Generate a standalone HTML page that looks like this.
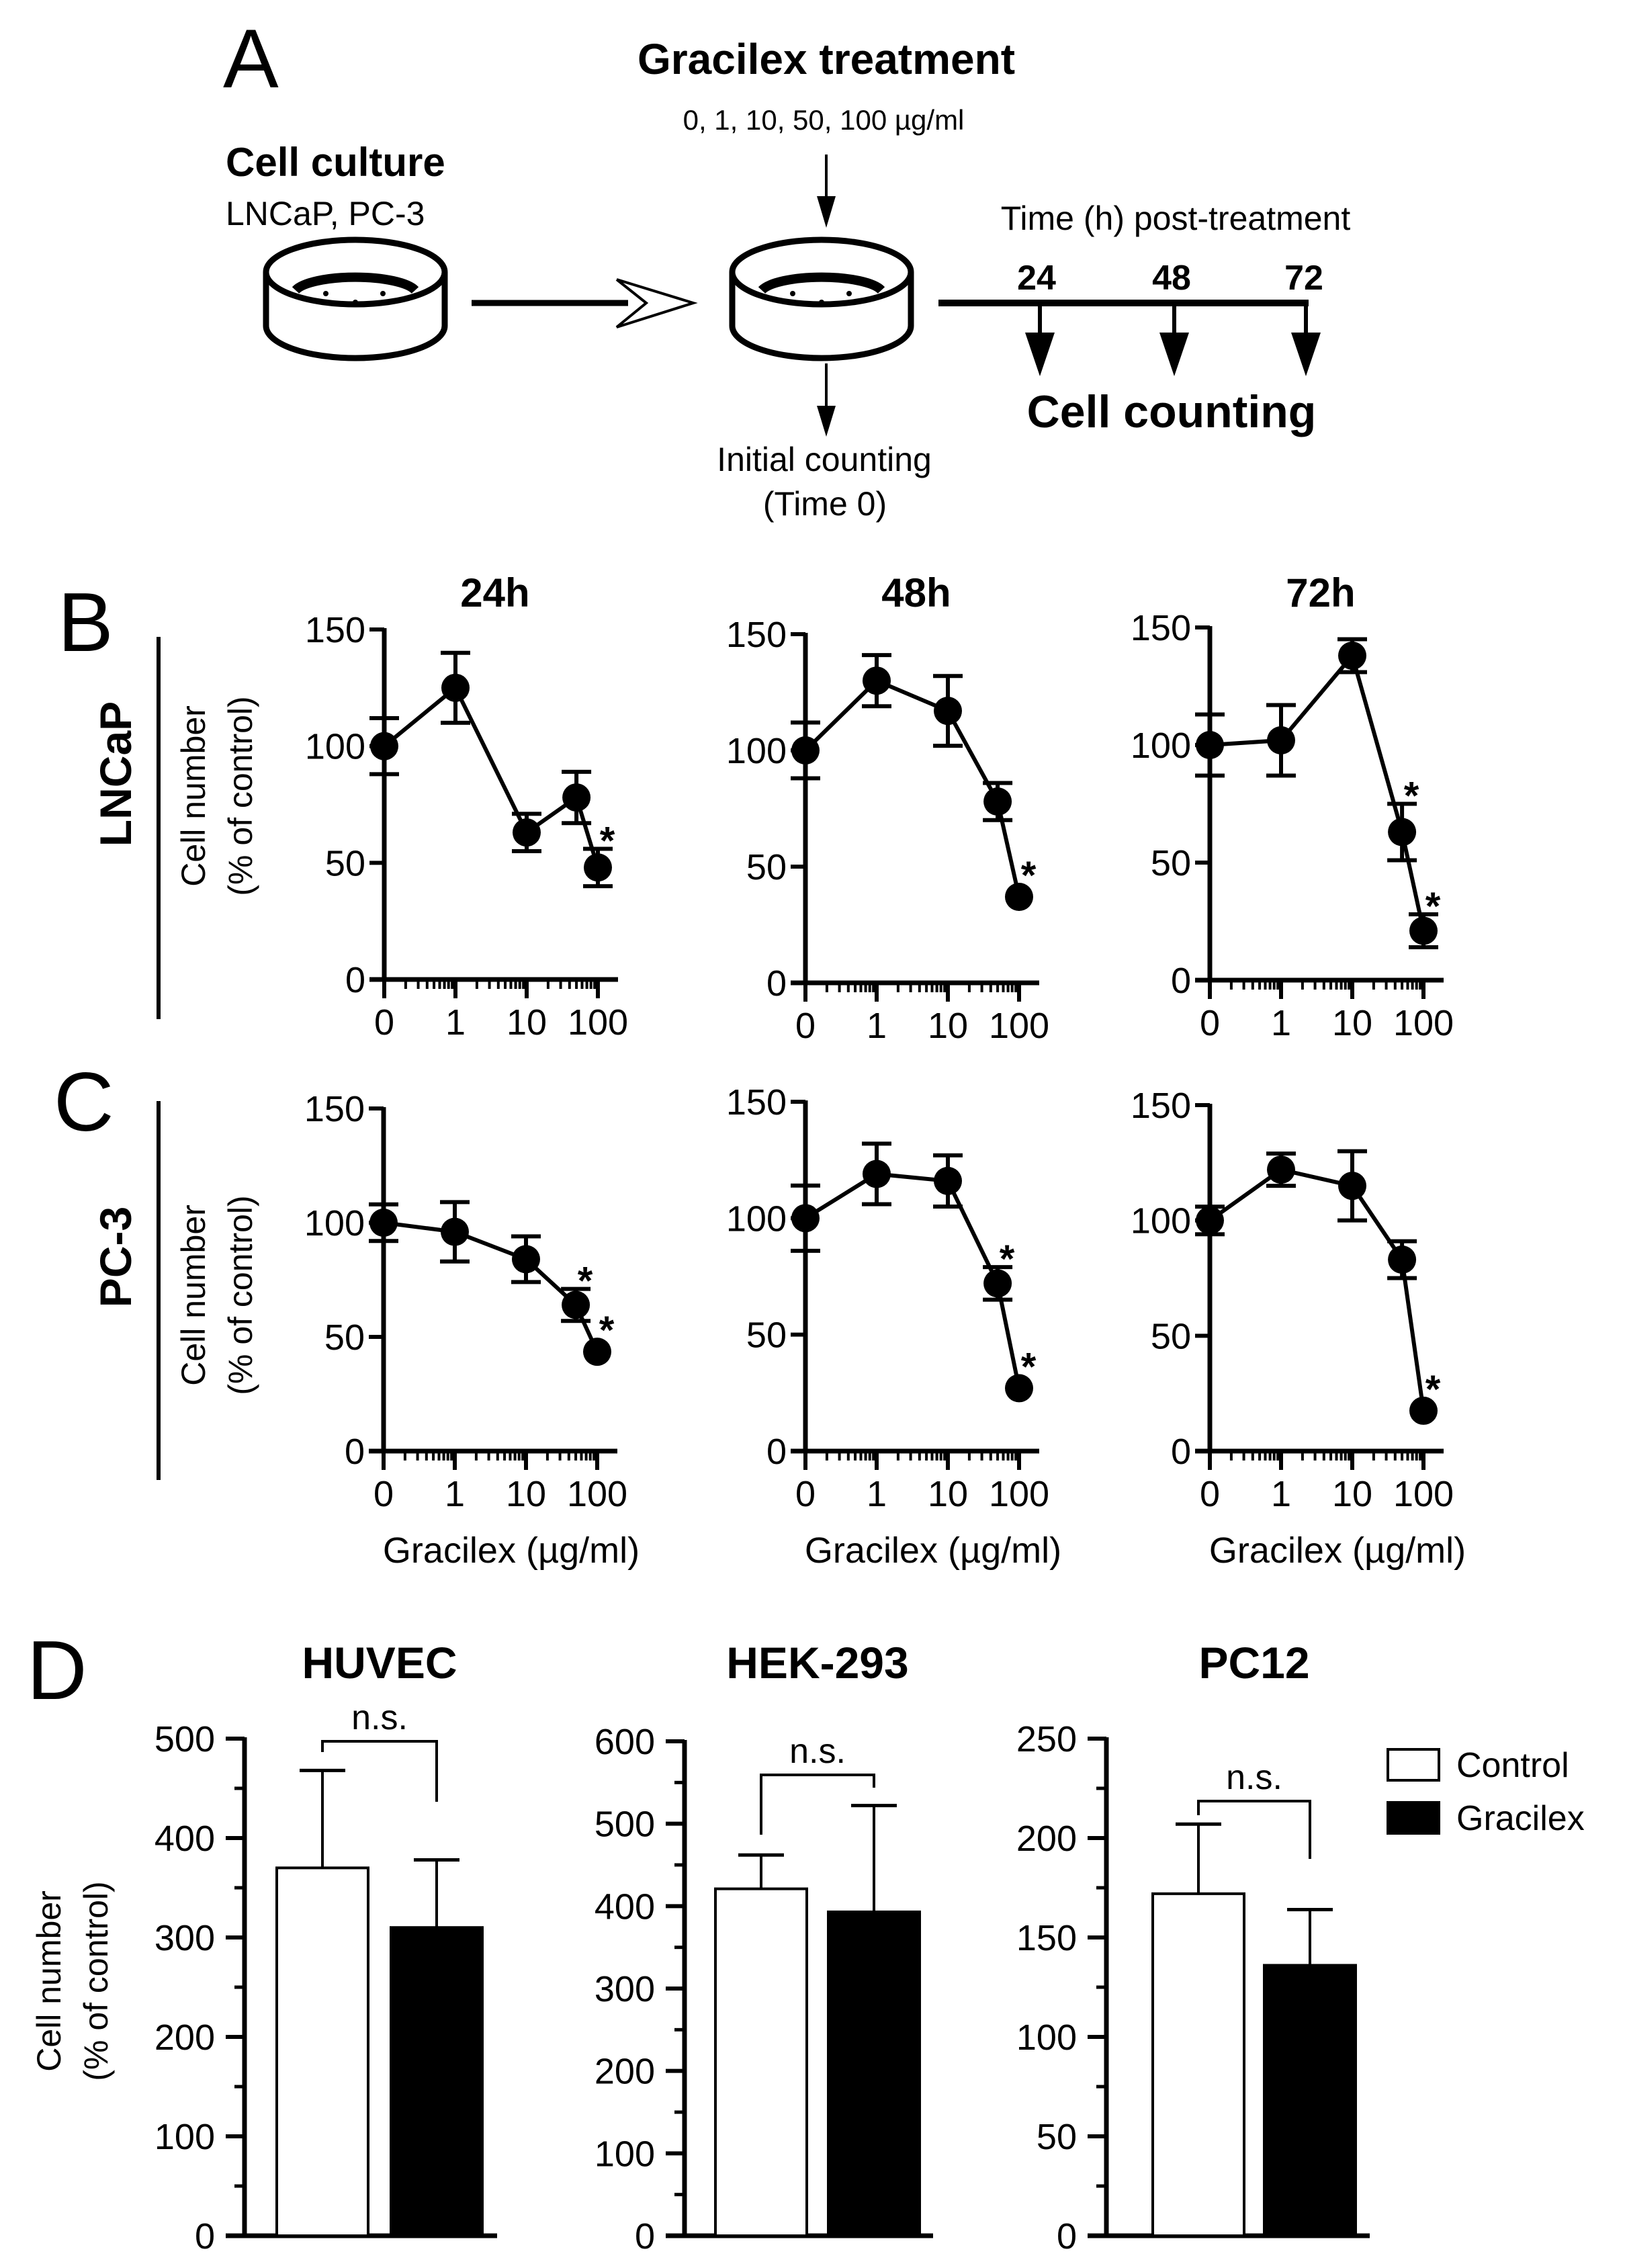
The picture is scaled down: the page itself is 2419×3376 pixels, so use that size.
<!DOCTYPE html>
<html><head><meta charset="utf-8"><style>
html,body{margin:0;padding:0;background:#fff;}
svg, svg text{font-family:"Liberation Sans",Arial,Helvetica,sans-serif;}
</style></head><body>
<svg id="fig" width="2419" height="3371" viewBox="0 0 2419 3371" xmlns="http://www.w3.org/2000/svg" font-family="Liberation Sans, Arial, sans-serif">
<rect width="2419" height="3371" fill="#fff"/>
<!-- Panel A -->
<g fill="#000" stroke="#000">
  <text x="332" y="130" font-size="124" stroke="none">A</text>
  <text x="1230" y="110" font-size="64" font-weight="bold" text-anchor="middle" stroke="none">Gracilex treatment</text>
  <text x="1226" y="193" font-size="42" text-anchor="middle" stroke="none">0, 1, 10, 50, 100 µg/ml</text>
  <text x="336" y="262" font-size="60" font-weight="bold" stroke="none">Cell culture</text>
  <text x="336" y="335" font-size="50" stroke="none">LNCaP, PC-3</text>
  <line x1="1230" y1="230" x2="1230" y2="300" stroke-width="4"/>
  <polygon points="1216,292 1244,292 1230,339" stroke="none"/>
  <g fill="none" stroke-width="9">
    <path d="M396,405 L396,485 A133,48 0 0 0 662,485 L662,405"/>
    <ellipse cx="529" cy="405" rx="133" ry="48"/>
    <path d="M440,432 A92,26 0 0 1 618,432" stroke-width="14"/>
    <circle cx="485" cy="437" r="4" fill="#000" stroke="none"/>
    <circle cx="529" cy="450" r="4" fill="#000" stroke="none"/>
    <circle cx="570" cy="437" r="4" fill="#000" stroke="none"/>
  </g>
  <line x1="702" y1="451" x2="935" y2="451" stroke-width="9"/>
  <polyline points="918,416 1032,451 918,487 962,451 918,416" fill="#fff" stroke-width="4"/>
  <g fill="none" stroke-width="9">
    <path d="M1090,405 L1090,485 A133,48 0 0 0 1356,485 L1356,405"/>
    <ellipse cx="1223" cy="405" rx="133" ry="48"/>
    <path d="M1134,432 A92,26 0 0 1 1312,432" stroke-width="14"/>
    <circle cx="1180" cy="437" r="4" fill="#000" stroke="none"/>
    <circle cx="1223" cy="450" r="4" fill="#000" stroke="none"/>
    <circle cx="1264" cy="437" r="4" fill="#000" stroke="none"/>
  </g>
  <line x1="1230" y1="541" x2="1230" y2="610" stroke-width="4"/>
  <polygon points="1216,604 1244,604 1230,650" stroke="none"/>
  <text x="1227" y="701" font-size="50" text-anchor="middle" stroke="none">Initial counting</text>
  <text x="1228" y="767" font-size="50" text-anchor="middle" stroke="none">(Time 0)</text>
  <text x="1750" y="342" font-size="50" text-anchor="middle" stroke="none">Time (h) post-treatment</text>
  <line x1="1397" y1="451" x2="1948" y2="451" stroke-width="10"/>
  <g>
    <line x1="1548" y1="451" x2="1548" y2="500" stroke-width="6"/><polygon points="1526,495 1570,495 1548,560" stroke="none"/>
    <line x1="1748" y1="451" x2="1748" y2="500" stroke-width="6"/><polygon points="1726,495 1770,495 1748,560" stroke="none"/>
    <line x1="1944" y1="451" x2="1944" y2="500" stroke-width="6"/><polygon points="1922,495 1966,495 1944,560" stroke="none"/>
  </g>
  <text x="1543" y="431" font-size="52" font-weight="bold" text-anchor="middle" stroke="none">24</text>
  <text x="1744" y="431" font-size="52" font-weight="bold" text-anchor="middle" stroke="none">48</text>
  <text x="1941" y="431" font-size="52" font-weight="bold" text-anchor="middle" stroke="none">72</text>
  <text x="1744" y="636" font-size="68" font-weight="bold" text-anchor="middle" stroke="none">Cell counting</text>
</g>
<!-- row labels -->
<g>
  <text x="86" y="969" font-size="124">B</text>
  <line x1="236" y1="948" x2="236" y2="1517" stroke="#000" stroke-width="6"/>
  <text transform="translate(195,1152) rotate(-90)" font-size="66" font-weight="bold" text-anchor="middle">LNCaP</text>
  <text transform="translate(305,1185) rotate(-90)" font-size="50" text-anchor="middle">Cell number</text>
  <text transform="translate(375,1185) rotate(-90)" font-size="50" text-anchor="middle">(% of control)</text>
  <text x="80" y="1683" font-size="124">C</text>
  <line x1="236" y1="1639" x2="236" y2="2203" stroke="#000" stroke-width="6"/>
  <text transform="translate(195,1871) rotate(-90)" font-size="66" font-weight="bold" text-anchor="middle">PC-3</text>
  <text transform="translate(305,1928) rotate(-90)" font-size="50" text-anchor="middle">Cell number</text>
  <text transform="translate(375,1928) rotate(-90)" font-size="50" text-anchor="middle">(% of control)</text>
  <text x="40" y="2529" font-size="124">D</text>
  <text transform="translate(90,2949) rotate(-90)" font-size="50" text-anchor="middle">Cell number</text>
  <text transform="translate(160,2949) rotate(-90)" font-size="50" text-anchor="middle">(% of control)</text>
</g>
<g id="charts"></g>
</svg>
<script>
// ---- line chart data ----
const concentrations = [0, 1, 10, 50, 100];
const xTickLabels = ["0", "1", "10", "100"];
const xTickValues = [0, 1, 10, 100];
const yTickValues = [0, 50, 100, 150];
const lncap24 = [100, 125, 63, 78, 48];
const lncap24Err = [12, 15, 8, 11, 8];
const lncap48 = [100, 130, 117, 78, 37];
const lncap48Err = [12, 11, 15, 8, 0];
const lncap72 = [100, 102, 138, 63, 21];
const lncap72Err = [13, 15, 7, 12, 7];
const pc3_24 = [100, 96, 84, 64, 43.5];
const pc3_24Err = [8, 13, 10, 7, 0];
const pc3_48 = [100, 119, 116, 72, 27];
const pc3_48Err = [14, 13, 11, 7, 0];
const pc3_72 = [100, 122, 115, 83, 17.5];
const pc3_72Err = [6, 7, 15, 8, 0];
const lncap24Stars = [4];
const lncap48Stars = [4];
const lncap72Stars = [3, 4];
const pc3_24Stars = [3, 4];
const pc3_48Stars = [3, 4];
const pc3_72Stars = [4];
const timeTitles = ["24h", "48h", "72h"];
// ---- bar chart data ----
const barGroups = ["Control", "Gracilex"];
const huvecValues = [370, 310];
const huvecErr = [98, 68];
const hekValues = [421, 393];
const hekErr = [41, 129];
const pc12Values = [172, 136];
const pc12Err = [35, 28];
const huvecTicks = [0, 100, 200, 300, 400, 500];
const hekTicks = [0, 100, 200, 300, 400, 500, 600];
const pc12Ticks = [0, 50, 100, 150, 200, 250];

const NS = "http://www.w3.org/2000/svg";
const root = document.getElementById('charts');
function mk(tag, attrs, parent) {
  const e = document.createElementNS(NS, tag);
  for (const k in attrs) e.setAttribute(k, attrs[k]);
  (parent || root).appendChild(e);
  return e;
}
function txt(s, attrs, parent) { const t = mk('text', attrs, parent); t.textContent = s; return t; }

function lineChart(name, ax, y0, y150, vals, errs, stars, title, xlabel) {
  const g = mk('g', {});
  
  
  const dec = 106;
  const xs = c => c === 0 ? ax : ax + dec + Math.log10(c) * dec;
  const ys = v => y0 - (v / 150) * (y0 - y150);
  mk('line', {x1: ax, y1: ys(150) - 2, x2: ax, y2: y0 + 2, stroke: '#000', 'stroke-width': 7}, g);
  yTickValues.forEach(v => {
    mk('line', {x1: ax - 22, y1: ys(v), x2: ax, y2: ys(v), stroke: '#000', 'stroke-width': 6}, g);
    const t = txt(String(v), {x: ax - 28, y: ys(v) + 19, 'font-size': 54, 'text-anchor': 'end'}, g);
    
    
  });
  mk('line', {x1: ax - 22, y1: y0, x2: xs(100) + 30, y2: y0, stroke: '#000', 'stroke-width': 7}, g);
  xTickValues.forEach((v, i) => {
    mk('line', {x1: xs(v), y1: y0, x2: xs(v), y2: y0 + 28, stroke: '#000', 'stroke-width': 6}, g);
    const t = txt(xTickLabels[i], {x: xs(v), y: y0 + 82, 'font-size': 54, 'text-anchor': 'middle'}, g);
    
    
  });
  [0.1, 1, 10].forEach(base => {
    for (let m = 2; m <= 9; m++) {
      const x = ax + dec + Math.log10(base * m) * dec;
      mk('line', {x1: x, y1: y0, x2: x, y2: y0 + 14, stroke: '#000', 'stroke-width': 4}, g);
    }
  });
  const pts = vals.map((v, i) => xs(concentrations[i]) + ',' + ys(v)).join(' ');
  const pl = mk('polyline', {points: pts, fill: 'none', stroke: '#000', 'stroke-width': 6}, g);
  
  
  vals.forEach((v, i) => {
    const x = xs(concentrations[i]);
    const e = errs[i];
    if (e > 0) {
      mk('line', {x1: x, y1: ys(v + e), x2: x, y2: ys(v - e), stroke: '#000', 'stroke-width': 6}, g);
      mk('line', {x1: x - 22, y1: ys(v + e), x2: x + 22, y2: ys(v + e), stroke: '#000', 'stroke-width': 6}, g);
      mk('line', {x1: x - 22, y1: ys(v - e), x2: x + 22, y2: ys(v - e), stroke: '#000', 'stroke-width': 6}, g);
    }
    const c = mk('circle', {cx: x, cy: ys(v), r: 21, fill: '#000'}, g);
    
    
  });
  stars.forEach(i => {
    const x = xs(concentrations[i]);
    const top = Math.min(ys(vals[i] + errs[i]), ys(vals[i]) - 20);
    const s = txt('*', {x: x + 14, y: top - 24 + 32, 'font-size': 58, 'font-weight': 'bold', 'text-anchor': 'middle'}, g);
    
    
  });
  if (title) {
    const t = txt(title, {x: ax + 165, y: 903, 'font-size': 60, 'font-weight': 'bold', 'text-anchor': 'middle'}, g);
    
    
  }
  if (xlabel) {
    const t = txt('Gracilex (µg/ml)', {x: ax + 190, y: 2326, 'font-size': 54, 'text-anchor': 'middle'}, g);
    
    
  }
}
lineChart('lncap-24h-chart', 572, 1458, 937, lncap24, lncap24Err, lncap24Stars, timeTitles[0], false);
lineChart('lncap-48h-chart', 1199, 1463, 944, lncap48, lncap48Err, lncap48Stars, timeTitles[1], false);
lineChart('lncap-72h-chart', 1801, 1459, 934, lncap72, lncap72Err, lncap72Stars, timeTitles[2], false);
lineChart('pc3-24h-chart', 571, 2160, 1650, pc3_24, pc3_24Err, pc3_24Stars, null, true);
lineChart('pc3-48h-chart', 1199, 2160, 1640, pc3_48, pc3_48Err, pc3_48Stars, null, true);
lineChart('pc3-72h-chart', 1801, 2160, 1645, pc3_72, pc3_72Err, pc3_72Stars, null, true);

function barChart(name, title, ax, y0, yTop, ticks, vals, errs, centers, axEnd, brY, legL, legR) {
  const g = mk('g', {});
  
  
  const ymax = ticks[ticks.length - 1];
  const step = ticks[1] - ticks[0];
  const ys = v => y0 - (v / ymax) * (y0 - yTop);
  mk('line', {x1: ax, y1: yTop - 2, x2: ax, y2: y0, stroke: '#000', 'stroke-width': 7}, g);
  ticks.forEach(v => {
    mk('line', {x1: ax - 28, y1: ys(v), x2: ax, y2: ys(v), stroke: '#000', 'stroke-width': 6}, g);
    const t = txt(String(v), {x: ax - 44, y: ys(v) + 19, 'font-size': 54, 'text-anchor': 'end'}, g);
    
    
    if (v < ymax) mk('line', {x1: ax - 15, y1: ys(v + step / 2), x2: ax, y2: ys(v + step / 2), stroke: '#000', 'stroke-width': 5}, g);
  });
  mk('line', {x1: ax - 28, y1: y0, x2: axEnd, y2: y0, stroke: '#000', 'stroke-width': 7}, g);
  vals.forEach((v, i) => {
    const c = centers[i];
    mk('line', {x1: c, y1: ys(v), x2: c, y2: ys(v + errs[i]), stroke: '#000', 'stroke-width': 4}, g);
    mk('line', {x1: c - 34, y1: ys(v + errs[i]), x2: c + 34, y2: ys(v + errs[i]), stroke: '#000', 'stroke-width': 5}, g);
    const r = mk('rect', {x: c - 68, y: ys(v), width: 136, height: y0 - ys(v), fill: i === 0 ? '#fff' : '#000', stroke: '#000', 'stroke-width': 4}, g);
    
    
  });
  mk('polyline', {points: `${centers[0]},${legL} ${centers[0]},${brY} ${centers[1]},${brY} ${centers[1]},${legR}`, fill: 'none', stroke: '#000', 'stroke-width': 4}, g);
  const ns = txt('n.s.', {x: (centers[0] + centers[1]) / 2, y: brY - 18, 'font-size': 52, 'text-anchor': 'middle'}, g);
  
  
  const t = txt(title, {x: (centers[0] + centers[1]) / 2, y: 2498, 'font-size': 66, 'font-weight': 'bold', 'text-anchor': 'middle'}, g);
  
  
}
barChart('huvec-chart', 'HUVEC', 364, 3328, 2588, huvecTicks, huvecValues, huvecErr, [480, 650], 740, 2592, 2608, 2682);
barChart('hek293-chart', 'HEK-293', 1019, 3328, 2592, hekTicks, hekValues, hekErr, [1133, 1301], 1389, 2642, 2731, 2661);
barChart('pc12-chart', 'PC12', 1647, 3328, 2588, pc12Ticks, pc12Values, pc12Err, [1784, 1950], 2039, 2681, 2702, 2767);

const lg = mk('g', {});


barGroups.forEach((name, i) => {
  const y = 2604 + i * 79;
  const r = mk('rect', {x: 2066, y: y, width: 76, height: 46, fill: i === 0 ? '#fff' : '#000', stroke: '#000', 'stroke-width': 4}, lg);
  
  
  const t = txt(name, {x: 2168, y: y + 41, 'font-size': 52}, lg);
  
  
});
</script>
</body></html>
